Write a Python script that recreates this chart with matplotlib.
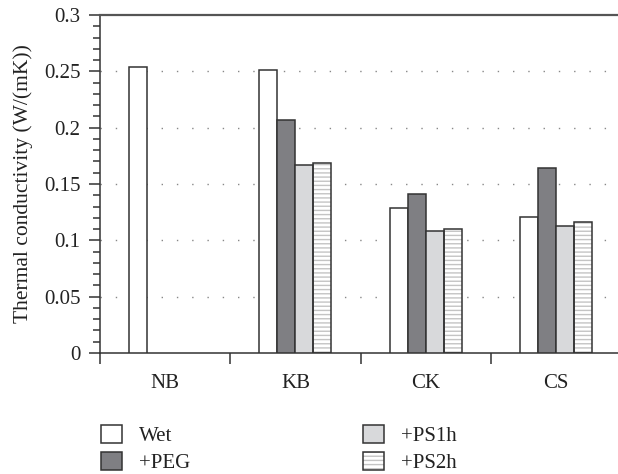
import numpy as np
import matplotlib
matplotlib.use("Agg")
import matplotlib.pyplot as plt
from matplotlib.patches import Patch
from matplotlib.ticker import MultipleLocator

plt.rcParams['font.family'] = ['Liberation Serif', 'DejaVu Serif']
plt.rcParams['hatch.linewidth'] = 1.0

categories = ['NB', 'KB', 'CK', 'CS']
series = ['Wet', '+PEG', '+PS1h', '+PS2h']
wet = [0.254, 0.251, 0.129, 0.121]
peg = [np.nan, 0.207, 0.141, 0.164]
ps1h = [np.nan, 0.167, 0.108, 0.113]
ps2h = [np.nan, 0.169, 0.110, 0.116]
values = [wet, peg, ps1h, ps2h]

fills = ['white', '#7f7f83', '#d8d9db', 'white']
edge = '#333333'
txt = '#222222'
fs = 15

fig = plt.figure(figsize=(6.18, 4.74), dpi=100)
ax = fig.add_axes([100 / 618, 121 / 474, 521 / 618, 338 / 474])

x = np.arange(len(categories))
w = 0.138
handles = []
for i, (name, vals) in enumerate(zip(series, values)):
    pos = x + (i - 1.5) * w
    if name == '+PS2h':
        ax.bar(pos, vals, w, color='white', edgecolor='#c4c4c4', hatch='----',
               linewidth=0, zorder=2)
        ax.bar(pos, vals, w, color='none', edgecolor=edge, linewidth=1.1, zorder=3)
        handles.append((Patch(facecolor='white', edgecolor='#c4c4c4', hatch='----', linewidth=0),
                        Patch(facecolor='none', edgecolor=edge, linewidth=1.1)))
    else:
        ax.bar(pos, vals, w, color=fills[i], edgecolor=edge, linewidth=1.1, zorder=3)
        handles.append(Patch(facecolor=fills[i], edgecolor=edge, linewidth=1.1))

ax.set_xlim(-0.5, 3.5)
ax.set_ylim(0, 0.3)
ax.set_xticks(x - 0.5, minor=False)
ax.set_xticklabels([])
ax.set_xticks(x, minor=True)
ax.set_xticklabels(categories, minor=True)
ax.tick_params(axis='x', which='major', direction='out', length=8, width=1.1, color=edge)
ax.tick_params(axis='x', which='minor', length=0, pad=15, labelsize=fs, labelcolor=txt)

ax.yaxis.set_major_locator(MultipleLocator(0.05))
ax.yaxis.set_minor_locator(MultipleLocator(0.01))
ax.set_yticks([0, 0.05, 0.1, 0.15, 0.2, 0.25, 0.3])
ax.set_yticklabels(['0', '0.05', '0.1', '0.15', '0.2', '0.25', '0.3'])
ax.tick_params(axis='y', which='major', direction='out', length=8, width=1.1, color=edge,
               labelsize=fs, labelcolor=txt, pad=6)
ax.tick_params(axis='y', which='minor', direction='out', length=5, width=1.1, color=edge)

for yv in [0.05, 0.1, 0.15, 0.2, 0.25]:
    ax.axhline(yv, color='#888888', linestyle=(0, (1, 10)), linewidth=1.0, zorder=1)

ax.spines['right'].set_visible(False)
ax.spines['top'].set_color('#555555')
ax.spines['top'].set_linewidth(1.6)
ax.spines['left'].set_color(edge)
ax.spines['left'].set_linewidth(1.1)
ax.spines['bottom'].set_color(edge)
ax.spines['bottom'].set_linewidth(1.1)

ax.set_ylabel('Thermal conductivity (W/(mK))', fontsize=fs + 0.5, color=txt, labelpad=8)

legkw = dict(loc='upper left', frameon=False, fontsize=fs, handlelength=1.0, handleheight=0.95,
             handletextpad=0.8, labelspacing=0.28, borderpad=0, borderaxespad=0)
leg1 = fig.legend(handles[:2], series[:2], bbox_to_anchor=(101 / 618, 1 - 425 / 474), **legkw)
leg2 = fig.legend(handles[2:], series[2:], bbox_to_anchor=(363 / 618, 1 - 425 / 474), **legkw)
for leg in (leg1, leg2):
    for t in leg.get_texts():
        t.set_color(txt)

fig.savefig('out.png', dpi=100)
